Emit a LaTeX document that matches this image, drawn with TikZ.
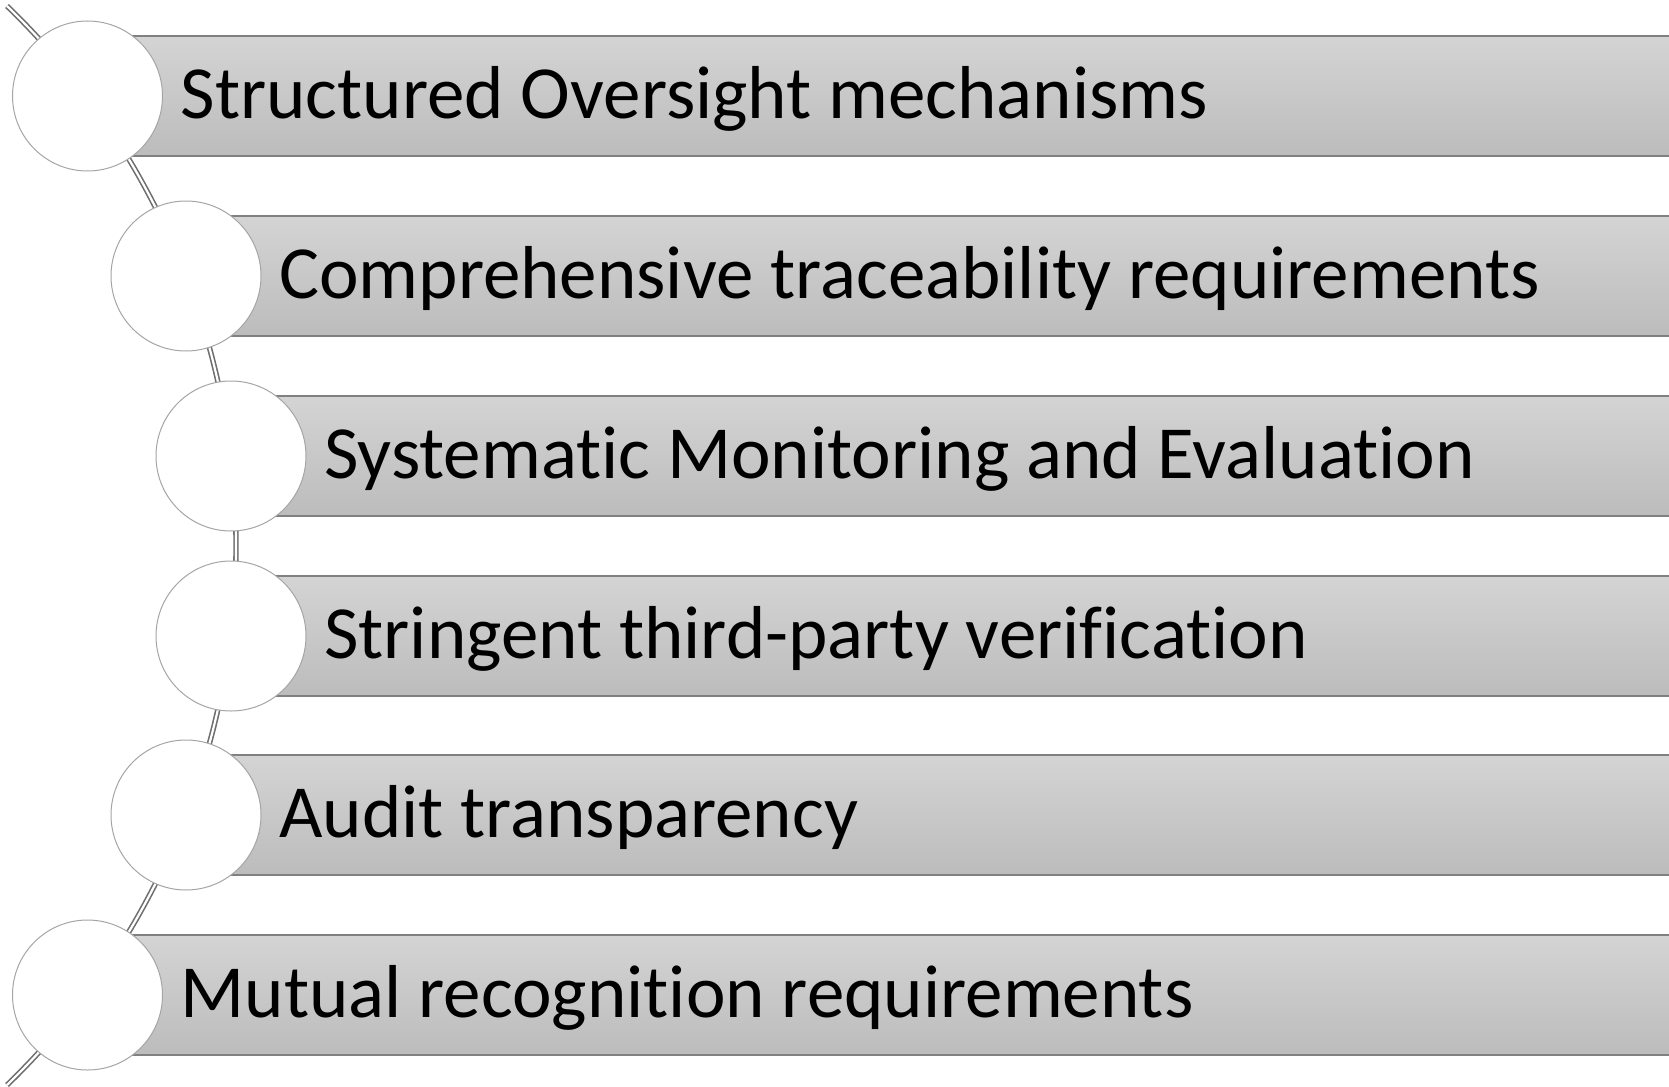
\documentclass[tikz,border=0pt]{standalone}
\usepackage{fontspec}
\setmainfont{Carlito}[Ligatures={NoCommon}]
\definecolor{bartop}{RGB}{212,212,212}
\definecolor{barbot}{RGB}{188,188,188}
\definecolor{barline}{RGB}{128,128,128}
\definecolor{ringline}{RGB}{165,165,165}
\definecolor{spinecol}{RGB}{110,110,110}
\begin{document}
\begin{tikzpicture}[x=1pt,y=-1pt,
  bar/.style={top color=bartop,bottom color=barbot,draw=none},
  baredge/.style={draw=barline,line width=1.6pt},
  ring/.style={circle,fill=white,draw=ringline,line width=1pt,minimum size=150pt,inner sep=0pt},
  label/.style={anchor=base west,inner sep=0pt,font=\fontsize{75}{90}\selectfont,text=black},
  spine/.style={draw=spinecol,line width=1.6pt,double=white,double distance=2.2pt}]
\useasboundingbox (0,0) rectangle (1669,1086);
\coordinate (top) at (7,6);
\draw[spine] (top) arc[start angle=46,end angle=-46,radius=750pt] coordinate (bottom);
\foreach \n/\cx/\cy/\txt in {1/87.5/96/Structured Oversight mechanisms,
  2/186/276/Comprehensive traceability requirements,
  3/231/456/Systematic Monitoring and Evaluation,
  4/231/636/Stringent third-party verification,
  5/186/815/Audit transparency,
  6/87.5/995/Mutual recognition requirements}{
  \fill[bar] (\cx,\cy-60) rectangle (1675,\cy+60);
  \draw[baredge] (\cx,\cy-60) -- (1675,\cy-60);
  \draw[baredge] (\cx,\cy+60) -- (1675,\cy+60);
  \node[ring] (c\n) at (\cx,\cy) {};
  \node[label] (t\n) at (\cx+93,\cy+22.5) {\txt};
}
\end{tikzpicture}
\end{document}
